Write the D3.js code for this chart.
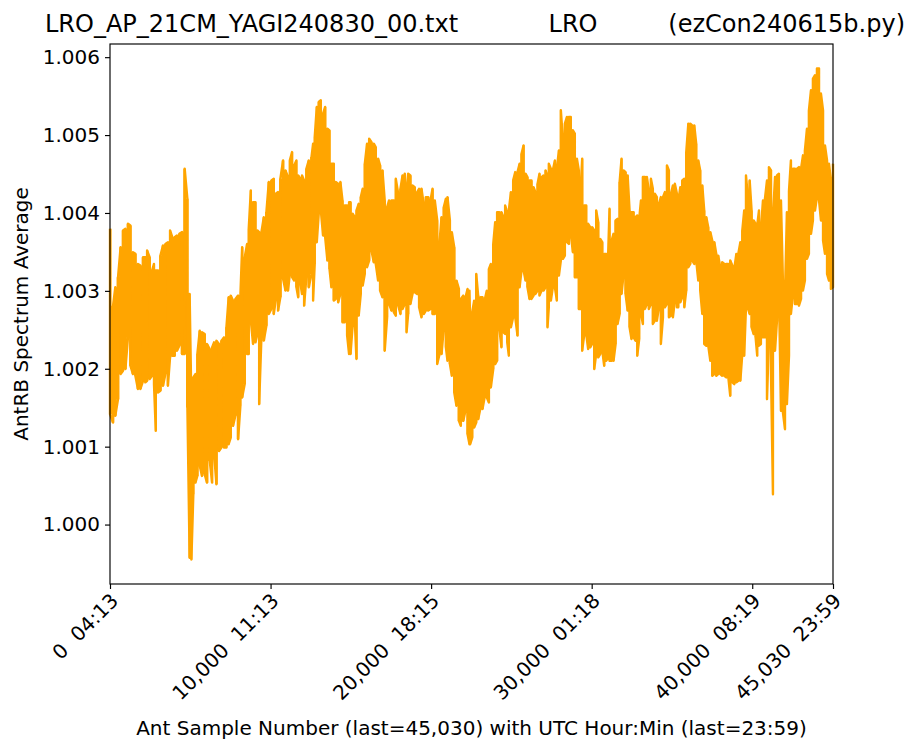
<!DOCTYPE html>
<html>
<head>
<meta charset="utf-8">
<script src="https://cdn.jsdelivr.net/npm/d3@7"></script>
<style>
  body { margin: 0; background: #fff; }
  text { font-family: "DejaVu Sans", sans-serif; fill: #000; }
</style>
</head>
<body>
<div id="viz"></div>
<script>
// ── DATA ─────────────────────────────────────────────────────────────────────
// envelope of the AntRB spectrum average (upper / lower per sample bin)
const sampleNo = [
  0,190,330,500,660,810,960,1120,1270,1430,1580,1740,1890,2060,2200,2310,2470,2620,2740,2850,
  2990,3140,3300,3450,3610,3740,3880,4030,4170,4320,4490,4650,4820,4960,5070,5190,5320,5440,5590,5730,
  5900,6040,6210,6360,6480,6630,6790,6940,7100,7250,7390,
  7520,7660,7810,7980,8120,8230,8390,8540,8640,8770,8910,9060,9180,9290,9430,9580,9740,9890,10050,10200,
  10320,10470,10610,10780,10930,11090,11200,11340,11470,11610,11720,11860,11960,12090,12230,12380,12550,12650,12750,12880,
  13000,13130,13270,13400,13540,13670,13790,13940,14060,14210,14350,14480,14620,14770,14890,
  14980,15120,15250,15350,15490,15620,15740,15870,16010,16140,16280,16430,16550,16700,16820,16970,17110,17260,17380,17530,
  17680,17800,17950,18090,18220,18360,18470,18570,18710,18840,18980,19130,19250,19400,19550,19670,19820,19960,20090,20230,
  20380,20500,20650,20790,20920,21020,21170,21290,21440,21580,21730,21850,22000,22140,22270,22390,
  22430,22560,22680,22810,22930,23080,23200,23350,23470,23600,23720,23870,23990,24110,24240,24380,24510,24610,24740,24840,
  24970,25110,25240,25380,25510,25630,25760,25880,26000,26130,26250,26380,26500,26630,26750,26880,27000,27130,27250,27330,
  27460,27580,27710,27830,27960,28080,28210,28330,28460,28580,28700,28830,28950,29080,29200,29330,29410,29540,29660,29780,
  29910,30030,30160,30280,30410,30530,30660,30780,30910,31030,31110,31240,31360,31490,31610,31740,31860,31990,32110,32240,
  32360,32480,32610,32730,32840,32960,33070,33190,33320,33440,33560,33690,33810,33940,34060,34190,34310,34440,34560,34690,
  34810,34940,35060,35180,35310,35390,35520,35640,35770,35890,36020,36140,36260,36390,36510,36640,36760,36890,37010,37140,37260,
  37390,37510,37640,37760,37880,38010,38130,38260,38380,38510,38630,38760,38880,39010,39130,39260,39380,39500,39610,39710,
  39840,39960,40090,40210,40310,40420,40540,40670,40790,40920,41040,41170,41290,41420,41540,41660,41790,41910,42040,42160,
  42290,42410,42540,42660,42790,42910,43040,43160,43280,43410,43530,43660,43780,43910,44030,44160,44280,44410,44530,44660,
  44780,44900,45030
];

const upperVals = [
  1.003796,1.002810,1.003046,1.003175,1.003561,1.003775,1.003796,1.003861,1.003839,1.003496,1.003475,1.003346,1.003325,1.003432,1.003432,1.003518,1.003432,1.003261,1.003346,1.003261,
  1.003261,1.003453,1.003582,1.003603,1.003625,1.003775,1.003689,1.003689,1.003711,1.003732,1.003754,1.004568,1.004182,1.002960,1.001546,1.001889,1.001932,1.002189,1.002489,1.002468,
  1.002446,1.002318,1.002253,1.002275,1.002339,1.002361,1.002318,1.002361,1.002403,1.002532,1.002918,
  1.002939,1.002875,1.002896,1.002939,1.002939,1.003561,1.003432,1.003603,1.003796,1.004289,1.004139,1.004139,1.003775,1.003754,1.003754,1.003946,1.004011,1.004397,1.004418,1.004439,
  1.004247,1.004268,1.004439,1.004675,1.004547,1.004461,1.004675,1.004782,1.004611,1.004675,1.004482,1.004439,1.004482,1.004418,1.004568,1.004675,1.004718,1.004890,1.004975,1.005361,
  1.005425,1.005447,1.005275,1.005361,1.005083,1.005061,1.004632,1.004632,1.004397,1.004375,1.004397,1.004161,1.004096,1.004096,1.004139,
  1.004139,1.003989,1.003946,1.004032,1.004118,1.004204,1.004311,1.004632,1.004890,1.004954,1.004911,1.004890,1.004847,1.004697,1.004611,1.004547,1.004161,1.004075,1.004161,1.004161,
  1.004161,1.004439,1.004247,1.004311,1.004482,1.004504,1.004289,1.004504,1.004482,1.004354,1.004332,1.004268,1.004311,1.004311,1.004096,1.004204,1.004204,1.004161,1.004311,1.004161,
  1.003904,1.003561,1.003946,1.004075,1.004182,1.004204,1.003904,1.003754,1.003561,1.003132,1.003025,1.002896,1.002939,1.002918,1.003025,1.003003,
  1.002575,1.002725,1.002875,1.003218,1.002939,1.002918,1.002918,1.002896,1.003003,1.003282,1.003346,1.003603,1.003882,1.004011,1.004011,1.004011,1.003946,1.004096,1.004011,1.004032,
  1.004268,1.004418,1.004525,1.004525,1.004632,1.004761,1.004868,1.004504,1.004461,1.004418,1.004418,1.004332,1.004268,1.004375,1.004504,1.004461,1.004482,1.004547,1.004461,1.004632,
  1.004568,1.004547,1.004675,1.004568,1.004804,1.005318,1.004932,1.005147,1.005233,1.005233,1.005233,1.005061,1.005018,1.004697,1.004547,1.004375,1.004697,1.004096,1.004096,1.003861,
  1.003818,1.003818,1.003775,1.004032,1.003882,1.003668,1.003625,1.003475,1.003475,1.003496,1.004054,1.003646,1.003732,1.003904,1.003925,1.004397,1.004697,1.004547,1.004525,1.004482,
  1.004032,1.004011,1.004011,1.003946,1.003968,1.003925,1.004161,1.004461,1.004461,1.004461,1.004289,1.004439,1.004311,1.004247,1.004204,1.004118,1.004204,1.004204,1.004268,1.004611,
  1.004547,1.004247,1.004354,1.004375,1.004247,1.004139,1.004332,1.004418,1.004439,1.004782,1.005147,1.005147,1.005125,1.005125,1.004890,1.004675,1.004547,1.004354,1.004032,1.003946,1.003818,
  1.003754,1.003646,1.003625,1.003475,1.003453,1.003303,1.003368,1.003346,1.003346,1.003346,1.003389,1.003325,1.003282,1.003475,1.003475,1.003625,1.003775,1.004032,1.004482,1.004247,
  1.004418,1.004032,1.003904,1.003861,1.003839,1.004032,1.003796,1.004161,1.004182,1.004418,1.004589,1.004547,1.003946,1.004461,1.004482,1.004504,1.004161,1.003132,1.002960,1.004011,
  1.004289,1.004675,1.004568,1.004568,1.004568,1.004589,1.004568,1.004740,1.004804,1.005083,1.005318,1.005576,1.005726,1.005769,1.005854,1.005854,1.005533,1.005318,1.004868,1.004675,
  1.004632,1.004418,1.004632
];

const lowerVals = [
  1.001417,1.001310,1.001396,1.001610,1.001932,1.001975,1.001996,1.002403,1.002039,1.001932,1.001910,1.001739,1.001739,1.001846,1.001825,1.001846,1.001867,1.001910,1.001803,1.001203,
  1.001696,1.001717,1.001782,1.001932,1.001782,1.002146,1.002168,1.002168,1.002232,1.002296,1.002189,1.002189,1.001503,0.999574,0.999552,1.000388,1.000538,1.000624,1.000752,1.000624,
  1.000645,1.000538,1.000817,1.000538,1.000924,1.000516,1.000945,1.000988,1.000988,1.000988,1.001031,
  1.001117,1.001267,1.001396,1.001096,1.001524,1.001631,1.001803,1.002189,1.002189,1.002617,1.002318,1.002339,1.002446,1.001546,1.002403,1.002361,1.002553,1.002703,1.002768,1.002703,
  1.002875,1.002746,1.002918,1.003153,1.003003,1.003003,1.003218,1.003175,1.003132,1.003046,1.002918,1.003089,1.002960,1.002810,1.003175,1.003046,1.003218,1.002875,1.003346,1.003625,
  1.003989,1.004032,1.003711,1.003689,1.003389,1.003282,1.003046,1.002875,1.002896,1.002853,1.002960,1.002596,1.002596,1.002425,1.002189,
  1.002189,1.002575,1.002596,1.002125,1.002682,1.002960,1.003068,1.003218,1.003303,1.003389,1.003518,1.003368,1.003346,1.003132,1.003003,1.002918,1.002232,1.002660,1.002832,1.002746,
  1.002725,1.002682,1.002810,1.002703,1.002768,1.002832,1.002468,1.002703,1.002832,1.002960,1.002982,1.002960,1.002789,1.002660,1.002703,1.002746,1.002746,1.002768,1.002703,1.002703,
  1.002060,1.002168,1.002189,1.002532,1.002275,1.002103,1.002060,1.001910,1.001696,1.001524,1.001331,1.001267,1.001331,1.001460,1.001160,1.001031,
  1.001031,1.001117,1.001246,1.001310,1.001353,1.001503,1.001482,1.001653,1.001631,1.001567,1.001760,1.001996,1.002060,1.002103,1.002532,1.002275,1.002468,1.002446,1.002339,1.002168,
  1.002532,1.002660,1.002660,1.002425,1.003046,1.003261,1.003261,1.003132,1.003046,1.002896,1.002896,1.002939,1.002960,1.003003,1.002939,1.003003,1.003003,1.003046,1.002532,1.002789,
  1.002875,1.003046,1.003046,1.002875,1.003196,1.003389,1.003411,1.003453,1.003625,1.003603,1.003732,1.003496,1.003175,1.003175,1.002768,1.002768,1.002232,1.002446,1.002446,1.002253,
  1.002275,1.002318,1.001996,1.002189,1.002146,1.002189,1.002232,1.002039,1.002103,1.002146,1.002103,1.002103,1.002103,1.002318,1.002575,1.002703,1.002960,1.003218,1.002960,1.002746,
  1.002532,1.002382,1.002403,1.002361,1.002168,1.002382,1.002703,1.002575,1.002768,1.002832,1.002768,1.002832,1.002575,1.002617,1.002617,1.002789,1.002318,1.002660,1.002789,1.002832,
  1.002660,1.002682,1.002660,1.002875,1.002789,1.002789,1.002853,1.002918,1.002789,1.003003,1.003303,1.003346,1.003389,1.003346,1.003389,1.003132,1.003003,1.002703,1.002318,1.002296,1.002296,
  1.002103,1.001910,1.001932,1.001910,1.001932,1.001932,1.001910,1.001910,1.001889,1.001889,1.001653,1.001825,1.001803,1.001825,1.001846,1.001846,1.002189,1.002168,1.002789,1.002789,
  1.002703,1.002532,1.002446,1.002403,1.002168,1.002296,1.002318,1.002403,1.002403,1.001610,1.002403,1.001932,1.000388,1.002232,1.002617,1.003025,1.001460,1.001439,1.001224,1.001546,
  1.002168,1.002703,1.002960,1.002832,1.002832,1.002810,1.002896,1.003003,1.003132,1.003411,1.003475,1.003732,1.003904,1.004032,1.004204,1.004161,1.003904,1.003646,1.003475,1.003218,
  1.003132,1.003025,1.003046
];

const xTickSamples = [0, 10000, 20000, 30000, 40000, 45030];
const xTickTimes = ["04:13", "11:13", "18:15", "01:18", "08:19", "23:59"];
const yTicks = [1.000, 1.001, 1.002, 1.003, 1.004, 1.005, 1.006];

const titleParts = ["LRO_AP_21CM_YAGI240830_00.txt", "LRO", "(ezCon240615b.py)"];
const xLabel = "Ant Sample Number (last=45,030) with UTC Hour:Min (last=23:59)";
const yLabel = "AntRB Spectrum Average";

// ── SETTINGS ─────────────────────────────────────────────────────────────────
const width = 915, height = 741;
const margin = {top: 44, right: 82, bottom: 157, left: 110};
const innerW = width - margin.left - margin.right;
const innerH = height - margin.top - margin.bottom;
const orange = "#ffa500";

const svg = d3.select("#viz").append("svg")
    .attr("width", width)
    .attr("height", height)
    .attr("viewBox", [0, 0, width, height]);

const g = svg.append("g").attr("transform", `translate(${margin.left},${margin.top})`);

// ── SCALES ───────────────────────────────────────────────────────────────────
const x = d3.scaleLinear().domain([0, 45030]).range([0, innerW]);

const yMin = d3.min(lowerVals), yMax = d3.max(upperVals);
const pad = (yMax - yMin) * 0.05; // matplotlib-like margins
const y = d3.scaleLinear().domain([yMin - pad, yMax + pad]).range([innerH, 0]);

// ── TRACE ────────────────────────────────────────────────────────────────────
const bins = sampleNo.map((s, i) => ({s: s, hi: upperVals[i], lo: lowerVals[i]}));

// solid body between the envelopes
const band = d3.area()
    .x(d => x(d.s))
    .y0(d => y(d.lo))
    .y1(d => y(d.hi))
    .curve(d3.curveStep);

g.append("path")
    .datum(bins)
    .attr("fill", orange)
    .attr("d", band);

// zigzag between upper and lower envelope so spikes look like the raw trace
const pts = [];
bins.forEach((b, i) => {
  if (i % 2 === 0) pts.push([b.s, b.hi], [b.s, b.lo]);
  else pts.push([b.s, b.lo], [b.s, b.hi]);
});

const line = d3.line().x(d => x(d[0])).y(d => y(d[1]));

g.append("path")
    .datum(pts)
    .attr("fill", "none")
    .attr("stroke", orange)
    .attr("stroke-width", 2.4)
    .attr("stroke-linejoin", "round")
    .attr("d", line);

// ── AXES ─────────────────────────────────────────────────────────────────────
const yAxis = d3.axisLeft(y)
    .tickValues(yTicks)
    .tickFormat(d3.format(".3f"))
    .tickSize(5)
    .tickPadding(5);

const yG = g.append("g").call(yAxis);
yG.select(".domain").remove();
yG.selectAll("line").attr("stroke", "#000").attr("stroke-width", 1.15);
yG.selectAll("text").attr("font-size", 20).attr("font-family", "DejaVu Sans").attr("fill", "#000");

const xAxis = d3.axisBottom(x)
    .tickValues(xTickSamples)
    .tickFormat("")
    .tickSize(5);

const xG = g.append("g").attr("transform", `translate(0,${innerH})`).call(xAxis);
xG.select(".domain").remove();
xG.selectAll("line").attr("stroke", "#000").attr("stroke-width", 1.15);

// rotated tick labels "sample  hh:mm" (two spaces kept with nbsp)
xG.selectAll(".tick").append("text")
    .attr("text-anchor", "end")
    .attr("font-size", 20)
    .attr("fill", "#000")
    .attr("transform", "translate(9,18) rotate(-45)")
    .text((d, i) => `${d3.format(",")(d)}\u00a0\u00a0${xTickTimes[i]}`);

// frame
g.append("rect")
    .attr("width", innerW)
    .attr("height", innerH)
    .attr("fill", "none")
    .attr("stroke", "#000")
    .attr("stroke-width", 1.15);

// ── LABELS ───────────────────────────────────────────────────────────────────
svg.append("text")
    .attr("x", margin.left + innerW / 2)
    .attr("y", 735)
    .attr("text-anchor", "middle")
    .attr("font-size", 20)
    .text(xLabel);

svg.append("text")
    .attr("transform", `translate(28,${margin.top + innerH / 2}) rotate(-90)`)
    .attr("text-anchor", "middle")
    .attr("font-size", 20)
    .text(yLabel);

svg.append("text").attr("x", 45).attr("y", 32).attr("font-size", 24).text(titleParts[0]);
svg.append("text").attr("x", 573).attr("y", 32).attr("text-anchor", "middle").attr("font-size", 24).text(titleParts[1]);
svg.append("text").attr("x", 905).attr("y", 32).attr("text-anchor", "end").attr("font-size", 24).text(titleParts[2]);
</script>
</body>
</html>
